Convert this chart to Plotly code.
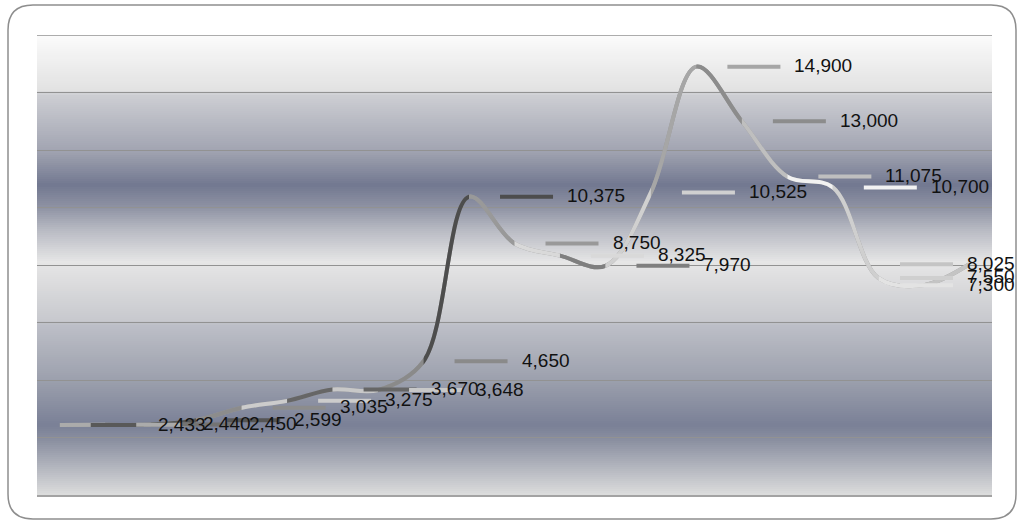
import plotly.graph_objects as go

# ---- data ----
values = [2433, 2440, 2450, 2599, 3035, 3275, 3670, 3648, 4650, 10375,
          8750, 8325, 7970, 10525, 14900, 13000, 11075, 10700, 7550, 7300, 8025]
point_colors = ["#595959", "#ababab", "#737373", "#555555", "#8c8c8c", "#cccccc",
                "#666666", "#c8c8c8", "#8a8a8a", "#4d4d4d", "#999999", "#d9d9d9",
                "#7f7f7f", "#d0d0d0", "#a6a6a6", "#8c8c8c", "#bfbfbf", "#f2f2f2",
                "#cfcfcf", "#e3e3e3", "#c4c4c4"]
y_ticks = [0, 2000, 4000, 6000, 8000, 10000, 12000, 14000, 16000]

idx = list(range(len(values)))
n = len(values)

W, H = 1017, 520
ML, MR, MT, MB = 37, 25, 35, 25
PW, PH = W - ML - MR, H - MT - MB

fig = go.Figure()

# base full curve (hides seams between coloured pieces)
fig.add_trace(go.Scatter(x=idx, y=values, mode="lines",
                         line=dict(shape="spline", color="#9a9a9a", width=4, simplify=False),
                         hoverinfo="skip", showlegend=False, xaxis="x", yaxis="y"))

layout_axes = {}
for k in range(1, n):
    name = f"x{k+1}"
    fig.add_trace(go.Scatter(x=idx, y=values, mode="lines",
                             line=dict(shape="spline", color=point_colors[k], width=4,
                                       simplify=False),
                             hoverinfo="skip", showlegend=False, xaxis=name, yaxis="y"))
    layout_axes[f"xaxis{k+1}"] = dict(domain=[(k - 0.5) / n, (k + 0.5) / n],
                                      range=[k - 1, k], visible=False, anchor="y",
                                      fixedrange=True)

# ---- background gradient of plot area ----
stops = [(35, "#fbfbfb"), (90, "#e2e2e2"), (95, "#cdced3"), (150, "#a2a5b2"),
         (185, "#727890"), (207, "#8e92a3"), (230, "#b8bac3"), (262, "#e6e6e6"),
         (320, "#c8c9ce"), (325, "#bdbfc7"), (380, "#9ca0ad"), (425, "#7a8096"),
         (440, "#8a8fa0"), (495, "#dddddd")]


def hex2rgb(h):
    h = h.lstrip("#")
    return [int(h[i:i + 2], 16) for i in (0, 2, 4)]


def grad(py):
    for (a, ca), (b, cb) in zip(stops[:-1], stops[1:]):
        if a <= py <= b:
            t = (py - a) / (b - a)
            c1, c2 = hex2rgb(ca), hex2rgb(cb)
            return "rgb(%d,%d,%d)" % tuple(round(c1[j] + (c2[j] - c1[j]) * t) for j in range(3))
    return stops[-1][1]


def PX(px):
    return (px - ML) / PW


def PY(py):
    return (MT + PH - py) / PH


shapes = []
step = 2
py = MT
while py < MT + PH:
    shapes.append(dict(type="rect", xref="paper", yref="paper", x0=0, x1=1,
                       y0=PY(min(py + step + 0.6, MT + PH)), y1=PY(py),
                       line=dict(width=0), fillcolor=grad(py + step / 2), layer="below"))
    py += step

# top gridline (axis maximum)
shapes.append(dict(type="line", xref="paper", yref="y", x0=0, x1=1,
                   y0=y_ticks[-1], y1=y_ticks[-1],
                   line=dict(color="#929292", width=1.5), layer="between"))

# outer rounded border
L, T, R, B, r = 8, 5, 1016, 519, 25
path = (f"M {PX(L+r)},{PY(T)} L {PX(R-r)},{PY(T)} Q {PX(R)},{PY(T)} {PX(R)},{PY(T+r)} "
        f"L {PX(R)},{PY(B-r)} Q {PX(R)},{PY(B)} {PX(R-r)},{PY(B)} "
        f"L {PX(L+r)},{PY(B)} Q {PX(L)},{PY(B)} {PX(L)},{PY(B-r)} "
        f"L {PX(L)},{PY(T+r)} Q {PX(L)},{PY(T)} {PX(L+r)},{PY(T)} Z")
shapes.append(dict(type="path", xref="paper", yref="paper", path=path,
                   line=dict(color="#8e8e8e", width=1.5), layer="below"))

# ---- data labels with legend keys ----
annotations = []
for i, v in enumerate(values):
    px_i = ML + (i + 0.5) * PW / n
    text_left = min(px_i + 96, 965)
    shift = text_left - px_i
    shapes.append(dict(type="line", xref="x", yref="y", xsizemode="pixel", xanchor=i,
                       x0=shift - 65, x1=shift - 12, y0=v, y1=v,
                       line=dict(color=point_colors[i], width=4), layer="above"))
    annotations.append(dict(x=i, y=v, xref="x", yref="y", text=f"{v:,}", showarrow=False,
                            xanchor="left", yanchor="middle", xshift=shift, yshift=1,
                            font=dict(family="Liberation Sans, Arial, sans-serif",
                                      size=19, color="#111111")))

fig.update_layout(
    width=W, height=H,
    margin=dict(l=ML, r=MR, t=MT, b=MB, pad=0),
    paper_bgcolor="white", plot_bgcolor="rgba(0,0,0,0)",
    showlegend=False,
    xaxis=dict(range=[-0.5, n - 0.5], showgrid=False, zeroline=False, showticklabels=False,
               ticks="", showline=True, linecolor="#a3a3a3", linewidth=2, fixedrange=True),
    yaxis=dict(range=[y_ticks[0], y_ticks[-1]], tickvals=y_ticks, showticklabels=False,
               ticks="", showgrid=True, gridcolor="#929292", gridwidth=1, zeroline=False,
               showline=False, fixedrange=True),
    shapes=shapes, annotations=annotations,
    **layout_axes,
)

fig.write_html("out.html", config={"displayModeBar": False})
